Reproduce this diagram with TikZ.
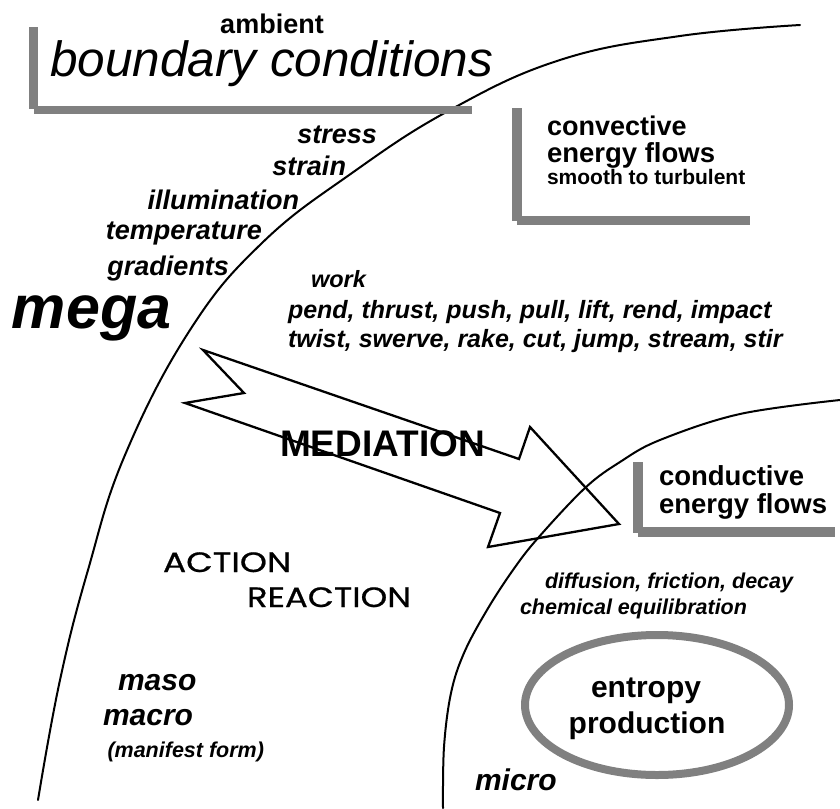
\documentclass[tikz,border=0pt]{standalone}
\usepackage{fontspec}
\setmainfont{Liberation Sans}
\newfontfamily\comicfont[FakeBold=0.6]{Poppins}
\newcommand\fsz[1]{\fontsize{#1}{#1}\selectfont}
\definecolor{shadegray}{HTML}{808080}
\tikzset{
  lab/.style={inner sep=0pt, outer sep=0pt, anchor=base west},
  bi/.style={lab, font=\bfseries\itshape},
  bu/.style={lab, font=\bfseries},
  curveline/.style={line width=2pt, line cap=round},
  bar/.style={fill=shadegray, draw=none},
  arrowshape/.style={line width=2.3pt, line join=miter}
}
\begin{document}
\begin{tikzpicture}[x=1pt,y=-1pt]
\useasboundingbox (0,0) rectangle (840,808);
% boundary curves
\draw[curveline] plot[smooth, tension=0.7] coordinates {(38,800) (60,680) (88,570) (125,455) (190,330) (262,243) (352,173) (450,110) (560,60) (680,36) (800,25)};
\draw[curveline] plot[smooth, tension=0.6] coordinates {(443,808) (444,747) (451,693) (464,653) (487,610) (513,570) (538,538) (585,488) (620,462) (660,440) (740,414) (840,400)};
% brackets
\fill[bar] (29,27) rectangle (38,109);
\fill[bar] (34,106) rectangle (472,114);
\fill[bar] (512,108) rectangle (522,221);
\fill[bar] (517,216) rectangle (750,225);
\fill[bar] (633,462) rectangle (643,533);
\fill[bar] (638,527) rectangle (835,537);
% entropy ellipse
\draw[shadegray, line width=8pt] (657,705) ellipse [x radius=132, y radius=70];
% mediation arrow
\draw[arrowshape] (203,350) -- (519,459) -- (530,427) -- (619,524) -- (488,547) -- (500,513) -- (185,403) -- (244,393) -- cycle;
% texts
\node[bu, font=\bfseries\fsz{27}, anchor=base] (amb) at (272,34) {ambient};
\node[lab, font=\itshape\fsz{49.5}] (bc) at (50,77) {boundary conditions};
\node[bu, font=\bfseries\fsz{27}] (conv1) at (547,135) {convective};
\node[bu, font=\bfseries\fsz{27.5}] (conv2) at (547,162) {energy flows};
\node[bu, font=\bfseries\fsz{21}] (conv3) at (547,184) {smooth to turbulent};
\node[bi, font=\bfseries\itshape\fsz{27}, anchor=base east] (stress) at (377,143) {stress};
\node[bi, font=\bfseries\itshape\fsz{27}, anchor=base east] (strain) at (346,175) {strain};
\node[bi, font=\bfseries\itshape\fsz{27}, anchor=base east] (illum) at (299,209) {illumination};
\node[bi, font=\bfseries\itshape\fsz{27}, anchor=base east] (temp) at (262,239) {temperature};
\node[bi, font=\bfseries\itshape\fsz{27}, anchor=base east] (grad) at (229,275) {gradients};
\node[bi, font=\bfseries\itshape\fsz{61}] (mega) at (12,328) {mega};
\node[bi, font=\bfseries\itshape\fsz{23.5}] (work) at (311,287) {work};
\node[bi, font=\bfseries\itshape\fsz{25}] (work1) at (288,318) {pend, thrust, push, pull, lift, rend, impact};
\node[bi, font=\bfseries\itshape\fsz{25}] (work2) at (288,347) {twist, swerve, rake, cut, jump, stream, stir};
\node[bu, font=\bfseries\fsz{37}] (med) at (280,456) {MEDIATION};
\node[bu, font=\bfseries\fsz{27.5}] (cond1) at (659,485) {conductive};
\node[bu, font=\bfseries\fsz{27.5}] (cond2) at (659,513) {energy flows};
\node[lab, font=\comicfont\fsz{28}] (act) at (163,572) {\scalebox{1.23}[1]{ACTION}};
\node[lab, font=\comicfont\fsz{28}] (react) at (247,607) {\scalebox{1.21}[1]{REACTION}};
\node[bi, font=\bfseries\itshape\fsz{21.5}] (diff) at (545,588) {diffusion, friction, decay};
\node[bi, font=\bfseries\itshape\fsz{21.5}] (chem) at (520,614) {chemical equilibration};
\node[bu, font=\bfseries\fsz{30}, anchor=base] (ent1) at (646,697) {entropy};
\node[bu, font=\bfseries\fsz{30}, anchor=base] (ent2) at (647,733) {production};
\node[bi, font=\bfseries\itshape\fsz{30}] (maso) at (118,690) {maso};
\node[bi, font=\bfseries\itshape\fsz{30}] (macro) at (103,725) {macro};
\node[bi, font=\bfseries\itshape\fsz{21.5}, anchor=base east] (manif) at (264,757) {(manifest form)};
\node[bi, font=\bfseries\itshape\fsz{30}] (micro) at (475,790) {micro};
\end{tikzpicture}
\end{document}
